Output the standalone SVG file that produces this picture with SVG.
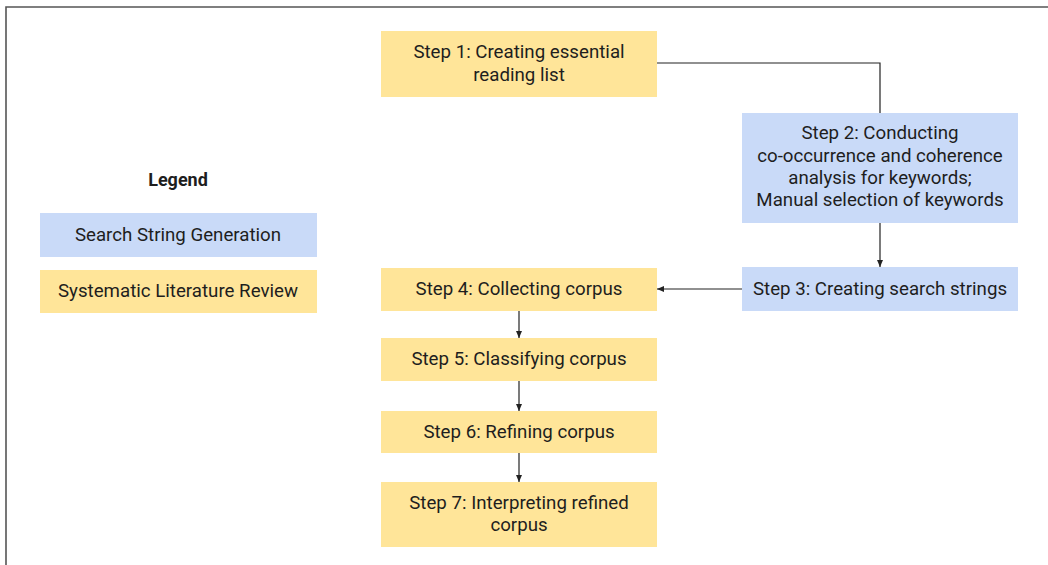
<svg xmlns="http://www.w3.org/2000/svg" width="1048" height="565" viewBox="0 0 1048 565">
<style>
.y{fill:#FFE599}
.b{fill:#C9DAF8}
text{font-family:Roboto,"Liberation Sans",sans-serif;font-size:18.7px;fill:#1e1e1e;text-anchor:middle;dominant-baseline:central}
.c{stroke:#222;stroke-width:1.2;fill:none}
</style>
<defs>
<marker id="ah" markerWidth="8" markerHeight="8" refX="7" refY="4" orient="auto" markerUnits="userSpaceOnUse">
<path d="M0,1 L7,4 L0,7 Z" fill="#222"/>
</marker>
</defs>
<rect width="1048" height="565" fill="#fff"/>
<path d="M6,570 L6,7 L1060,7" stroke="#555" stroke-width="1.6" fill="none"/>
<g id="legend">
<text x="178" y="179" style="font-weight:bold;font-size:18px">Legend</text>
<rect class="b" x="40" y="213" width="277" height="44"/>
<text x="178" y="235">Search String Generation</text>
<rect class="y" x="40" y="270" width="277" height="43"/>
<text x="178" y="291">Systematic Literature Review</text>
</g>
<g id="connectors">
<path class="c" d="M657,63 L880,63 L880,113"/>
<path class="c" d="M880,223 L880,267" marker-end="url(#ah)"/>
<path class="c" d="M742,289 L657,289" marker-end="url(#ah)"/>
<path class="c" d="M519,311 L519,338" marker-end="url(#ah)"/>
<path class="c" d="M519,381 L519,411" marker-end="url(#ah)"/>
<path class="c" d="M519,453 L519,482" marker-end="url(#ah)"/>
</g>
<g id="step1">
<rect class="y" x="381" y="31" width="276" height="66"/>
<text x="519" y="52">Step 1: Creating essential</text>
<text x="519" y="75">reading list</text>
</g>
<g id="step2">
<rect class="b" x="742" y="113" width="276" height="110"/>
<text x="880" y="133">Step 2: Conducting</text>
<text x="880" y="156">co-occurrence and coherence</text>
<text x="880" y="178">analysis for keywords;</text>
<text x="880" y="200">Manual selection of keywords</text>
</g>
<g id="step3">
<rect class="b" x="742" y="267" width="276" height="44"/>
<text x="880" y="289">Step 3: Creating search strings</text>
</g>
<g id="step4">
<rect class="y" x="381" y="268" width="276" height="43"/>
<text x="519" y="289">Step 4: Collecting corpus</text>
</g>
<g id="step5">
<rect class="y" x="381" y="338" width="276" height="43"/>
<text x="519" y="359">Step 5: Classifying corpus</text>
</g>
<g id="step6">
<rect class="y" x="381" y="411" width="276" height="42"/>
<text x="519" y="432">Step 6: Refining corpus</text>
</g>
<g id="step7">
<rect class="y" x="381" y="482" width="276" height="65"/>
<text x="519" y="503">Step 7: Interpreting refined</text>
<text x="519" y="525">corpus</text>
</g>
</svg>
